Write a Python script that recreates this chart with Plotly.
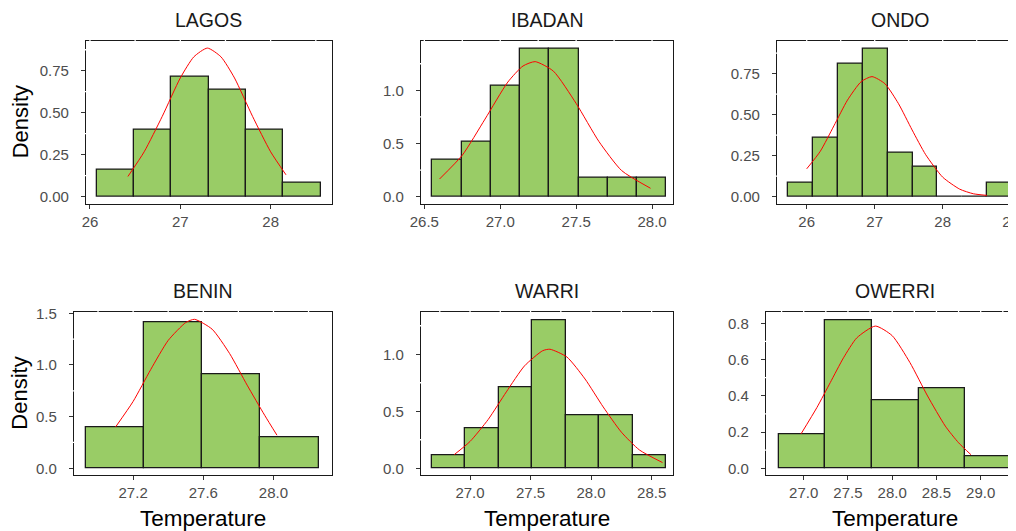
import numpy as np
import plotly.graph_objects as go

# ---------------- data ----------------
cities = ["LAGOS", "IBADAN", "ONDO", "BENIN", "WARRI", "OWERRI"]

lagos_edges = [26.08, 26.49, 26.90, 27.32, 27.73, 28.14, 28.56]
lagos_density = [0.159, 0.397, 0.716, 0.637, 0.397, 0.080]
lagos_curve_x = [26.42, 26.6, 26.8, 27.0, 27.15, 27.3, 27.45, 27.6, 27.8, 28.0, 28.17]
lagos_curve_y = [0.12, 0.267, 0.478, 0.707, 0.833, 0.885, 0.833, 0.707, 0.478, 0.267, 0.13]

ibadan_edges = [26.553, 26.746, 26.938, 27.131, 27.323, 27.516, 27.708, 27.901, 28.093]
ibadan_density = [0.345, 0.514, 1.044, 1.395, 1.395, 0.179, 0.179, 0.179]
ibadan_curve_x = [26.60, 26.75, 26.9, 27.05, 27.15, 27.23, 27.35, 27.5, 27.65, 27.8, 27.99]
ibadan_curve_y = [0.166, 0.39, 0.73, 1.078, 1.229, 1.27, 1.181, 0.877, 0.519, 0.245, 0.079]

ondo_edges = [25.725, 26.093, 26.46, 26.83, 27.19, 27.56, 27.92, 28.29, 28.65, 29.02]
ondo_density = [0.088, 0.360, 0.813, 0.905, 0.268, 0.183, 0.0, 0.0, 0.088]
ondo_curve_x = [26.0, 26.2, 26.4, 26.6, 26.8, 26.96, 27.15, 27.35, 27.55, 27.75, 28.0, 28.25, 28.45, 28.65]
ondo_curve_y = [0.17, 0.277, 0.432, 0.589, 0.701, 0.732, 0.689, 0.567, 0.407, 0.256, 0.119, 0.046, 0.018, 0.008]

benin_edges = [26.931, 27.263, 27.594, 27.924, 28.258]
benin_density = [0.40, 1.41, 0.906, 0.30]
benin_curve_x = [27.10, 27.2, 27.3, 27.4, 27.5, 27.55, 27.65, 27.75, 27.85, 27.95, 28.02]
benin_curve_y = [0.40, 0.647, 0.955, 1.238, 1.411, 1.442, 1.347, 1.111, 0.805, 0.513, 0.32]

warri_edges = [26.686, 26.962, 27.238, 27.514, 27.79, 28.066, 28.342, 28.618]
warri_density = [0.114, 0.347, 0.713, 1.298, 0.465, 0.465, 0.114]
warri_curve_x = [26.87, 27.0, 27.15, 27.3, 27.45, 27.6, 27.66, 27.8, 27.95, 28.1, 28.25, 28.4, 28.59]
warri_curve_y = [0.12, 0.235, 0.428, 0.670, 0.898, 1.031, 1.044, 0.976, 0.783, 0.538, 0.317, 0.160, 0.05]

owerri_edges = [26.718, 27.245, 27.772, 28.299, 28.826, 29.353]
owerri_density = [0.185, 0.817, 0.375, 0.441, 0.064]
owerri_curve_x = [26.97, 27.15, 27.3, 27.45, 27.6, 27.81, 28.0, 28.2, 28.4, 28.6, 28.75, 28.89]
owerri_curve_y = [0.19, 0.336, 0.473, 0.61, 0.72, 0.785, 0.732, 0.584, 0.399, 0.233, 0.141, 0.075]

# tick labels
lagos_xticks = [26, 27, 28];              lagos_yticks = ["0.00", "0.25", "0.50", "0.75"]
ibadan_xticks = ["26.5", "27.0", "27.5", "28.0"]; ibadan_yticks = ["0.0", "0.5", "1.0"]
ondo_xticks = [26, 27, 28, 29];           ondo_yticks = ["0.00", "0.25", "0.50", "0.75"]
benin_xticks = ["27.2", "27.6", "28.0"];  benin_yticks = ["0.0", "0.5", "1.0", "1.5"]
warri_xticks = ["27.0", "27.5", "28.0", "28.5"]; warri_yticks = ["0.0", "0.5", "1.0"]
owerri_xticks = ["27.0", "27.5", "28.0", "28.5", "29.0"]; owerri_yticks = ["0.0", "0.2", "0.4", "0.6", "0.8"]

x_title = "Temperature"
y_title = "Density"

# ---------------- layout / style ----------------
# the page body has an 8px margin, so the figure is drawn 8px smaller
OFF = 8
W, H = 1016 - OFF, 531 - OFF
BAR_FILL = "#99CC66"
EDGE = "#1A1A1A"
TICK_COL = "#4D4D4D"
FONT = "Liberation Sans, Arial, sans-serif"


def pxx(v):
    return min(max((v - OFF) / W, 0.0), 1.0)


def pxy(v):
    return 1 - (v - OFF) / H


panels = [
    dict(name=cities[0], edges=lagos_edges, dens=lagos_density, cx=lagos_curve_x, cy=lagos_curve_y,
         xt=lagos_xticks, yt=lagos_yticks, px=(86, 331.7), py=(40.7, 204),
         xr=[25.956, 28.676], yr=[-0.044, 0.929], mirror_y=True),
    dict(name=cities[1], edges=ibadan_edges, dens=ibadan_density, cx=ibadan_curve_x, cy=ibadan_curve_y,
         xt=ibadan_xticks, yt=ibadan_yticks, px=(421, 673.3), py=(40.7, 204),
         xr=[26.478, 28.14], yr=[-0.069, 1.467], mirror_y=True),
    dict(name=cities[2], edges=ondo_edges, dens=ondo_density, cx=ondo_curve_x, cy=ondo_curve_y,
         xt=ondo_xticks, yt=ondo_yticks, px=(777, 1016), py=(40.7, 204),
         xr=[25.563, 29.078], yr=[-0.0445, 0.951], mirror_y=False),
    dict(name=cities[3], edges=benin_edges, dens=benin_density, cx=benin_curve_x, cy=benin_curve_y,
         xt=benin_xticks, yt=benin_yticks, px=(74, 331.7), py=(312.3, 475),
         xr=[26.863, 28.332], yr=[-0.065, 1.51], mirror_y=True),
    dict(name=cities[4], edges=warri_edges, dens=warri_density, cx=warri_curve_x, cy=warri_curve_y,
         xt=warri_xticks, yt=warri_yticks, px=(421, 673.3), py=(312.3, 475),
         xr=[26.595, 28.679], yr=[-0.059, 1.368], mirror_y=True),
    dict(name=cities[5], edges=owerri_edges, dens=owerri_density, cx=owerri_curve_x, cy=owerri_curve_y,
         xt=owerri_xticks, yt=owerri_yticks, px=(766, 1016), py=(312.3, 475),
         xr=[26.574, 29.399], yr=[-0.037, 0.861], mirror_y=False),
]

fig = go.Figure()
shapes = []
annotations = []

for i, p in enumerate(panels):
    n = i + 1
    xa = "x" if n == 1 else f"x{n}"
    ya = "y" if n == 1 else f"y{n}"
    edges = np.array(p["edges"], dtype=float)
    centers = (edges[:-1] + edges[1:]) / 2
    widths = edges[1:] - edges[:-1]

    fig.add_trace(go.Bar(
        x=centers, y=p["dens"], width=widths, xaxis=xa, yaxis=ya,
        marker=dict(color=BAR_FILL, line=dict(color=EDGE, width=1.3)),
        showlegend=False, hoverinfo="skip"))
    fig.add_trace(go.Scatter(
        x=p["cx"], y=p["cy"], mode="lines", xaxis=xa, yaxis=ya,
        line=dict(color="#FF0000", width=1, shape="spline", smoothing=0.6),
        showlegend=False, hoverinfo="skip"))

    xtick_vals = [float(v) for v in p["xt"]]
    ytick_vals = [float(v) for v in p["yt"]]
    xdom = [pxx(p["px"][0]), pxx(p["px"][1])]
    ydom = [pxy(p["py"][1]), pxy(p["py"][0])]

    axis_common = dict(showline=True, linecolor=EDGE, linewidth=1.3, automargin=False,
                       ticks="outside", ticklen=4, tickwidth=1.1, tickcolor="#333333",
                       showgrid=False, zeroline=False, fixedrange=True,
                       tickfont=dict(family=FONT, size=15, color=TICK_COL))
    fig.layout[f"xaxis{'' if n == 1 else n}"] = dict(
        axis_common, domain=xdom, range=p["xr"], anchor=ya, mirror=True,
        tickmode="array", tickvals=xtick_vals, ticktext=[str(t) for t in p["xt"]],
        ticklabelstandoff=0, ticklabeloverflow="allow")
    fig.layout[f"yaxis{'' if n == 1 else n}"] = dict(
        axis_common, domain=ydom, range=p["yr"], anchor=xa, mirror=p["mirror_y"],
        tickmode="array", tickvals=ytick_vals, ticktext=p["yt"],
        ticklabelstandoff=9)

    # white grid-line gaps in the top and left panel borders (ggplot look)
    xstep = (xtick_vals[1] - xtick_vals[0]) / 2
    g = xtick_vals[0] - xstep * np.floor((xtick_vals[0] - p["xr"][0]) / xstep)
    while g < p["xr"][1]:
        shapes.append(dict(type="line", xref=xa, yref=f"{ya} domain", x0=g, x1=g,
                           y0=0.985, y1=1.02, layer="above",
                           line=dict(color="white", width=1.3)))
        g += xstep
    ystep = (ytick_vals[1] - ytick_vals[0]) / 2
    g = ytick_vals[0] + ystep
    while g < p["yr"][1]:
        shapes.append(dict(type="line", xref=f"{xa} domain", yref=ya, x0=-0.012, x1=0.012,
                           y0=g, y1=g, layer="above",
                           line=dict(color="white", width=1.3)))
        g += 2 * ystep

    # panel title
    full_right = {2: 1023.0, 5: 1023.0}.get(i, p["px"][1])
    cx_px = (p["px"][0] + full_right) / 2
    title_y = p["py"][0] - 21
    annotations.append(dict(text=p["name"], x=(cx_px - OFF) / W, y=pxy(title_y), xref="paper", yref="paper",
                            showarrow=False, xanchor="center", yanchor="middle",
                            font=dict(family=FONT, size=19.5, color="#1A1A1A")))
    if i >= 3:
        annotations.append(dict(text=x_title, x=(cx_px - OFF) / W, y=pxy(518), xref="paper", yref="paper",
                                showarrow=False, xanchor="center", yanchor="middle",
                                font=dict(family=FONT, size=22.5, color="#000000")))
    if i in (0, 3):
        annotations.append(dict(text=y_title, x=pxx(20), y=pxy((p["py"][0] + p["py"][1]) / 2),
                                xref="paper", yref="paper", textangle=-90,
                                showarrow=False, xanchor="center", yanchor="middle",
                                font=dict(family=FONT, size=22, color="#000000")))

fig.update_layout(
    width=W, height=H, margin=dict(l=0, r=0, t=0, b=0),
    paper_bgcolor="white", plot_bgcolor="white",
    bargap=0, shapes=shapes, annotations=annotations,
    font=dict(family=FONT),
)

fig.write_html("out.html", config={"displayModeBar": False})
